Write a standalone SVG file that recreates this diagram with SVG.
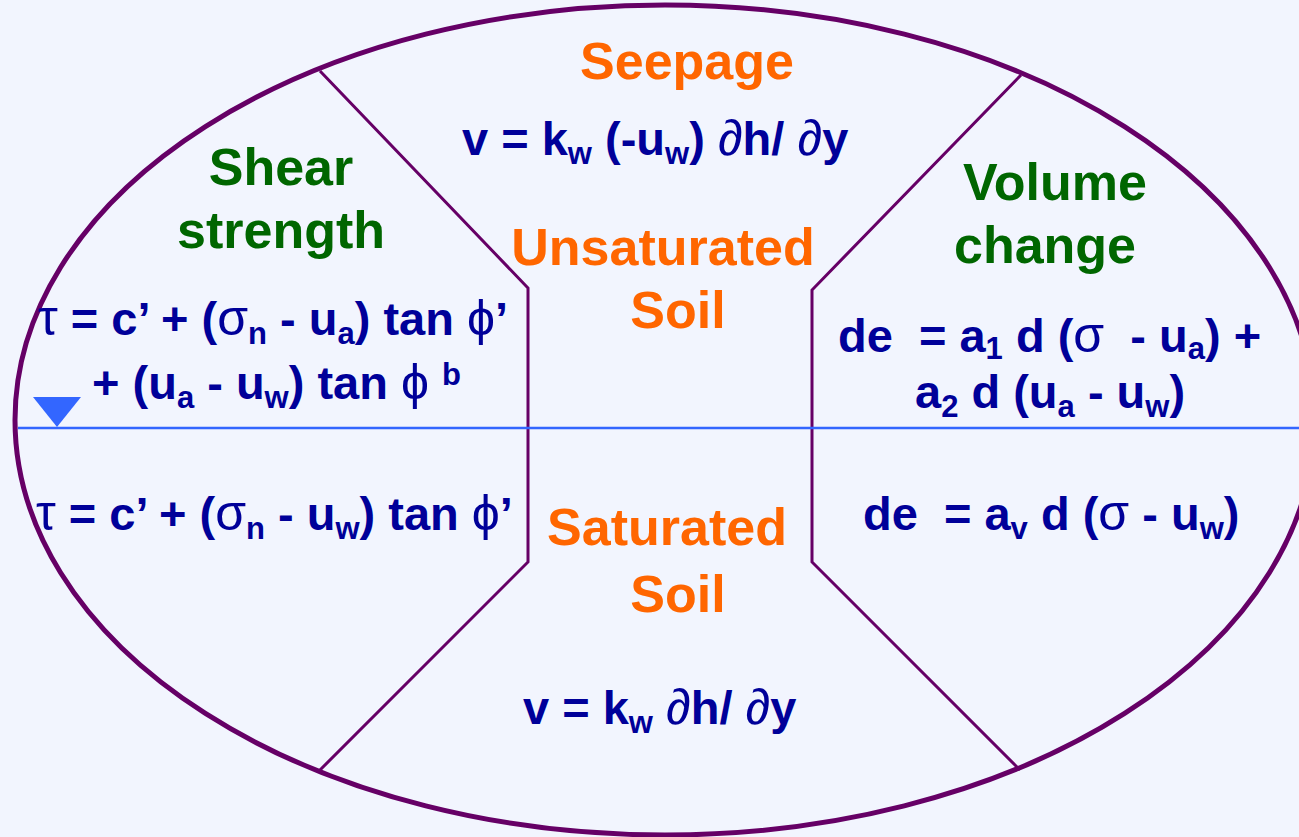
<svg xmlns="http://www.w3.org/2000/svg" width="1299" height="837" viewBox="0 0 1299 837">
<style>
.t{font-family:"Liberation Sans",Arial,sans-serif;font-weight:bold}
.ttl{font-size:52px;fill:#ff6600;text-anchor:middle}
.grn{font-size:52px;fill:#006600;text-anchor:middle}
.eq{font-size:47px;fill:#000099}
.s{font-size:31px}
.g{font-weight:normal;font-size:50px}
.div{fill:none;stroke:#660066;stroke-width:3}
</style>
<rect width="1299" height="837" fill="#f2f5fe"/>
<g id="connectors">
<ellipse cx="665" cy="420" rx="650" ry="415" fill="none" stroke="#660066" stroke-width="5"/>
<polyline class="div" points="320,71 528,288 528,562 318,772"/>
<polyline class="div" points="1021,75 812,290 812,562 1020,770"/>
<line x1="18" y1="428" x2="1299" y2="428" stroke="#3366ff" stroke-width="2.5"/>
</g>
<g id="water-table">
<polygon points="33,397 81,397 57,427" fill="#3366ff"/>
</g>
<g id="seepage">
<text class="t ttl" x="687" y="79">Seepage</text>
<text class="t eq" x="462" y="155">v = k<tspan class="s" dy="9">w</tspan><tspan dy="-9"> (-u</tspan><tspan class="s" dy="9">w</tspan><tspan dy="-9">) </tspan><tspan class="g">∂</tspan>h/ <tspan class="g">∂</tspan>y</text>
</g>
<g id="unsaturated">
<text class="t ttl" x="663" y="265">Unsaturated</text>
<text class="t ttl" x="678" y="328">Soil</text>
</g>
<g id="saturated">
<text class="t ttl" x="667" y="545">Saturated</text>
<text class="t ttl" x="678" y="612">Soil</text>
<text class="t eq" x="523" y="724">v = k<tspan class="s" dy="9">w</tspan><tspan dy="-9"> </tspan><tspan class="g">∂</tspan>h/ <tspan class="g">∂</tspan>y</text>
</g>
<g id="shear-strength">
<text class="t grn" x="281" y="185">Shear</text>
<text class="t grn" x="281" y="248">strength</text>
<text class="t eq" x="38" y="335"><tspan class="g">τ</tspan> = c’ + (<tspan class="g">σ</tspan><tspan class="s" dy="9">n</tspan><tspan dy="-9"> - u</tspan><tspan class="s" dy="9">a</tspan><tspan dy="-9">) tan </tspan><tspan class="g">ϕ</tspan>’</text>
<text class="t eq" x="92" y="399">+ (u<tspan class="s" dy="9">a</tspan><tspan dy="-9"> - u</tspan><tspan class="s" dy="9">w</tspan><tspan dy="-9">) tan </tspan><tspan class="g">ϕ</tspan> <tspan class="s" dy="-14">b</tspan></text>
<text class="t eq" x="36" y="530"><tspan class="g">τ</tspan> = c’ + (<tspan class="g">σ</tspan><tspan class="s" dy="9">n</tspan><tspan dy="-9"> - u</tspan><tspan class="s" dy="9">w</tspan><tspan dy="-9">) tan </tspan><tspan class="g">ϕ</tspan>’</text>
</g>
<g id="volume-change">
<text class="t grn" x="1055" y="200">Volume</text>
<text class="t grn" x="1045" y="263">change</text>
<text class="t eq" x="838" y="352" xml:space="preserve">de  = a<tspan class="s" dy="7">1</tspan><tspan dy="-7"> d (</tspan><tspan class="g">σ</tspan>  - u<tspan class="s" dy="7">a</tspan><tspan dy="-7">) +</tspan></text>
<text class="t eq" x="915" y="408">a<tspan class="s" dy="9">2</tspan><tspan dy="-9"> d (u</tspan><tspan class="s" dy="9">a</tspan><tspan dy="-9"> - u</tspan><tspan class="s" dy="9">w</tspan><tspan dy="-9">)</tspan></text>
<text class="t eq" x="863" y="530" xml:space="preserve">de  = a<tspan class="s" dy="9">v</tspan><tspan dy="-9"> d (</tspan><tspan class="g">σ</tspan> - u<tspan class="s" dy="9">w</tspan><tspan dy="-9">)</tspan></text>
</g>
</svg>
